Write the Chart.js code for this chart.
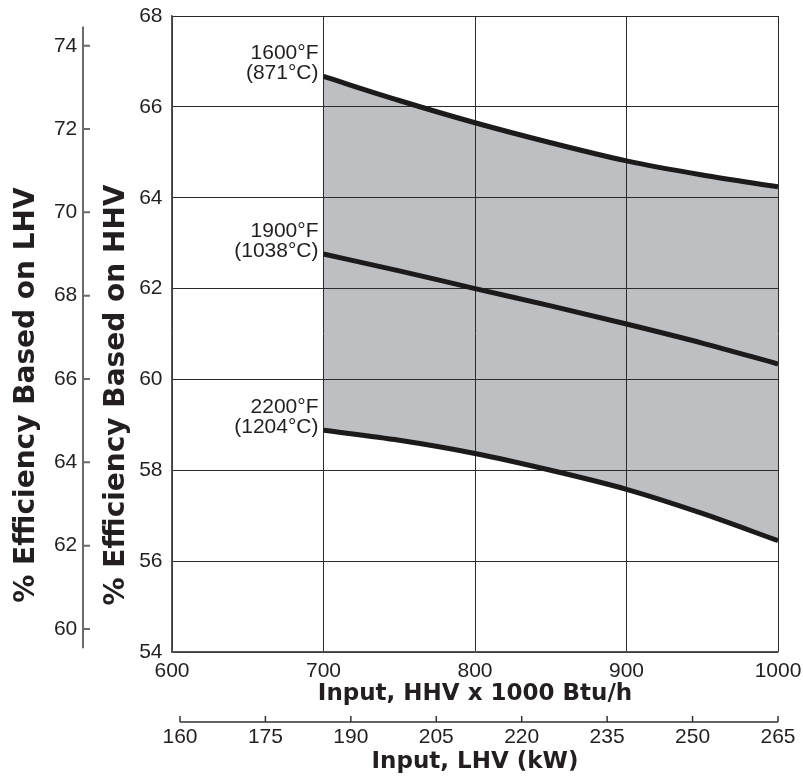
<!DOCTYPE html>
<html>
<head>
<meta charset="utf-8">
<script src="https://cdn.jsdelivr.net/npm/chart.js@4/dist/chart.umd.min.js"></script>
<style>
  html, body { margin: 0; padding: 0; background: #fff; }
  canvas { display: block; }
</style>
</head>
<body>
<canvas id="effChart" width="803" height="778"></canvas>
<script>
// input, HHV x 1000 Btu/h
const inputHHV = [700, 750, 800, 850, 900, 950, 1000];
// % efficiency based on HHV, one curve per furnace temperature
const eff1600 = [66.67, 66.14, 65.65, 65.21, 64.81, 64.50, 64.24];
const eff1900 = [62.76, 62.39, 62.00, 61.62, 61.22, 60.80, 60.34];
const eff2200 = [58.88, 58.66, 58.37, 58.00, 57.58, 57.05, 56.45];
const tempF = ["1600°F", "1900°F", "2200°F"];
const tempC = ["(871°C)", "(1038°C)", "(1204°C)"];

// axis ticks
const hhvTicks = [54, 56, 58, 60, 62, 64, 66, 68];
const lhvTicks = [60, 62, 64, 66, 68, 70, 72, 74];
const btuTicks = [600, 700, 800, 900, 1000];
const kwTicks = [160, 175, 190, 205, 220, 235, 250, 265];
const lhvRange = [59.54, 74.46];

const textColor = "#231f20";
const tickFont = { family: "Liberation Sans", size: 21 };
const clear = "rgba(0,0,0,0)";

function pts(values) {
    return inputHHV.map((v, i) => ({ x: v, y: values[i] }));
}

function fixTicks(list) {
    return function (scale) {
        scale.ticks = list.map(v => ({ value: v }));
    };
}

const plain = v => String(v);

// the second scales have their line and ticks on the inner side, so draw them by hand
const extraAxes = {
    id: "extraAxes",
    afterDraw(chart) {
        const ctx = chart.ctx;
        const yl = chart.scales.yL;
        const x2 = chart.scales.x2;
        ctx.save();
        ctx.strokeStyle = "#6b6b6b";
        ctx.lineWidth = 2;
        const ax = yl.right - 12;
        ctx.beginPath();
        ctx.moveTo(ax, yl.getPixelForValue(lhvRange[1]));
        ctx.lineTo(ax, yl.getPixelForValue(lhvRange[0]));
        lhvTicks.forEach(v => {
            const p = yl.getPixelForValue(v);
            ctx.moveTo(ax, p);
            ctx.lineTo(ax + 7, p);
        });
        ctx.stroke();

        ctx.strokeStyle = "#333";
        ctx.lineWidth = 1.5;
        const ay = x2.top + 14;
        ctx.beginPath();
        ctx.moveTo(x2.getPixelForValue(kwTicks[0]), ay);
        ctx.lineTo(x2.getPixelForValue(kwTicks[kwTicks.length - 1]), ay);
        kwTicks.forEach(v => {
            const p = x2.getPixelForValue(v);
            ctx.moveTo(p, ay);
            ctx.lineTo(p, ay - 6);
        });
        ctx.stroke();

        // vertical titles
        ctx.fillStyle = textColor;
        ctx.font = "bold 28px 'DejaVu Sans'";
        ctx.textAlign = "center";
        ctx.textBaseline = "middle";
        [["% Efficiency Based on LHV", 27], ["% Efficiency Based on HHV", 117]].forEach(([t, cx]) => {
            ctx.save();
            ctx.translate(cx, 395);
            ctx.rotate(-Math.PI / 2);
            ctx.fillText(t, 0, 0);
            ctx.restore();
        });
        ctx.restore();
    }
};

const curveLabels = {
    id: "curveLabels",
    afterDatasetsDraw(chart) {
        const { ctx, scales: { x, y } } = chart;
        const series = [eff1600, eff1900, eff2200];
        ctx.save();
        ctx.font = "21px 'Liberation Sans'";
        ctx.fillStyle = textColor;
        ctx.textAlign = "right";
        ctx.textBaseline = "middle";
        series.forEach((s, i) => {
            const px = x.getPixelForValue(inputHHV[0]) - 5;
            const py = y.getPixelForValue(s[0]);
            ctx.fillText(tempF[i], px, py - 23);
            ctx.fillText(tempC[i], px, py - 3);
        });
        ctx.restore();
    }
};

const lineStyle = {
    borderColor: "#1c1a1b",
    borderWidth: 5,
    pointRadius: 0,
    cubicInterpolationMode: "monotone"
};

new Chart(document.getElementById("effChart"), {
    type: "line",
    data: {
        datasets: [
            Object.assign({ data: pts(eff1600), fill: "+2", backgroundColor: "#bebfc3" }, lineStyle),
            Object.assign({ data: pts(eff1900), fill: false }, lineStyle),
            Object.assign({ data: pts(eff2200), fill: false }, lineStyle)
        ]
    },
    options: {
        responsive: false,
        animation: false,
        devicePixelRatio: 1,
        layout: { padding: { left: 0, right: 25, top: 16, bottom: 0 } },
        plugins: {
            legend: { display: false },
            tooltip: { enabled: false },
            filler: { drawTime: "beforeDraw" }
        },
        scales: {
            x: {
                type: "linear",
                position: "bottom",
                weight: 0,
                min: 600,
                max: 1000,
                afterBuildTicks: fixTicks(btuTicks),
                afterFit(scale) { scale.height = 56; },
                grid: { color: "#2b2b2b", lineWidth: 1, drawTicks: true, tickLength: 7, tickColor: clear },
                border: { color: "#555", width: 1.5 },
                ticks: { color: textColor, font: tickFont, padding: 0, autoSkip: false, maxRotation: 0, callback: plain },
                title: {
                    display: true,
                    text: "Input, HHV x 1000 Btu/h",
                    color: textColor,
                    font: { family: "DejaVu Sans", size: 23, weight: "bold" },
                    padding: { top: 0, bottom: 0 }
                }
            },
            x2: {
                type: "linear",
                position: "bottom",
                weight: 1,
                min: 158.6,
                max: 265,
                afterBuildTicks: fixTicks(kwTicks),
                afterFit(scale) { scale.height = 70; },
                grid: { drawOnChartArea: false, drawTicks: true, tickLength: 17, tickColor: clear },
                border: { display: false },
                ticks: { color: textColor, font: tickFont, padding: 0, autoSkip: false, maxRotation: 0, callback: plain },
                title: {
                    display: true,
                    text: "Input, LHV (kW)",
                    color: textColor,
                    font: { family: "DejaVu Sans", size: 23, weight: "bold" },
                    padding: { top: 0, bottom: 2 }
                }
            },
            y: {
                type: "linear",
                position: "left",
                weight: 0,
                min: 54,
                max: 68,
                afterBuildTicks: fixTicks(hhvTicks),
                afterFit(scale) { scale.width = 77; },
                grid: { color: "#2b2b2b", lineWidth: 1, drawTicks: true, tickLength: 9.5, tickColor: clear },
                border: { color: "#555", width: 1.5 },
                ticks: { color: textColor, font: tickFont, padding: 0, callback: plain }
            },
            yL: {
                type: "linear",
                position: "left",
                weight: 1,
                min: 59.448,
                max: 74.713,
                afterBuildTicks: fixTicks(lhvTicks),
                afterFit(scale) { scale.width = 95; },
                grid: { drawOnChartArea: false, drawTicks: true, tickLength: 17.7, tickColor: clear },
                border: { display: false },
                ticks: { color: textColor, font: tickFont, padding: 0, callback: plain }
            }
        }
    },
    plugins: [extraAxes, curveLabels]
});
</script>
</body>
</html>
